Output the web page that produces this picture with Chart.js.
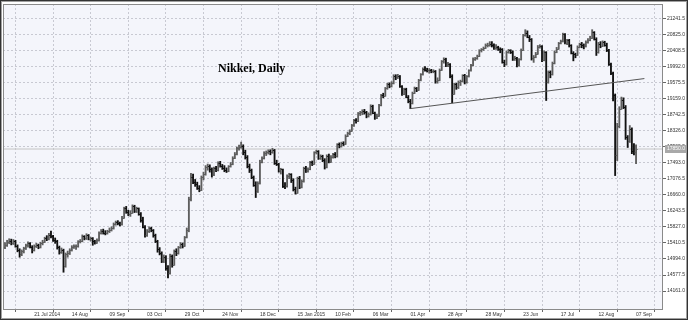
<!DOCTYPE html>
<html>
<head>
<meta charset="utf-8">
<script src="https://cdn.jsdelivr.net/npm/chart.js@4.4.0/dist/chart.umd.min.js"></script>
<style>
  html, body { margin: 0; padding: 0; background: #fff; }
  #wrap { width: 688px; height: 320px; }
</style>
</head>
<body>
<div id="wrap"><canvas id="chart" width="688" height="320"></canvas></div>
<script>
// Nikkei daily bars, each row is [open, high, low, close]
const jul2014 = [
  [15300,15420,15260,15350],[15350,15480,15320,15440],[15440,15520,15390,15470],[15470,15510,15360,15400],
  [15400,15500,15370,15460],[15460,15480,15300,15330],[15330,15360,15180,15220],[15220,15260,15040,15120],
  [15120,15230,15080,15200],[15200,15300,15150,15270],[15270,15380,15240,15350],[15350,15440,15300,15400],
  [15400,15420,15280,15310],[15310,15340,15150,15220],[15220,15360,15200,15330],[15330,15400,15290,15360],
  [15360,15380,15260,15300],[15300,15430,15280,15410],[15410,15480,15360,15440],[15440,15560,15420,15530],
  [15530,15600,15470,15510],[15510,15660,15490,15620],[15620,15720,15540,15580]
];
const aug2014 = [
  [15580,15610,15450,15500],[15500,15540,15400,15450],[15450,15480,15250,15300],[15300,15330,15120,15170],
  [15170,15280,15140,15230],[15230,15250,14650,14800],[14800,15150,14780,15120],[15120,15200,15040,15150],
  [15150,15260,15110,15220],[15220,15340,15200,15310],[15310,15360,15270,15320],[15320,15360,15240,15330],
  [15330,15470,15300,15450],[15450,15500,15410,15460],[15460,15620,15440,15580],[15580,15600,15490,15530],
  [15530,15650,15500,15610],[15610,15630,15490,15520],[15520,15560,15460,15530],[15530,15550,15350,15450],
  [15450,15480,15380,15420]
];
const sep2014 = [
  [15420,15520,15400,15480],[15480,15700,15460,15670],[15670,15760,15640,15730],[15730,15770,15640,15680],
  [15680,15730,15620,15670],[15670,15740,15640,15710],[15710,15800,15680,15750],[15750,15830,15720,15790],
  [15790,15930,15770,15910],[15910,15980,15870,15950],[15950,15990,15880,15920],[15920,15950,15850,15890],
  [15890,16100,15870,16070],[16070,16340,16050,16320],[16320,16360,16180,16210],[16210,16260,16120,16170],
  [16170,16250,16100,16200],[16200,16400,16180,16370],[16370,16390,16200,16230],[16230,16340,16200,16310],
  [16310,16320,16130,16170],[16170,16200,15950,16000]
];
const oct2014 = [
  [16000,16080,15800,15830],[15830,15860,15560,15620],[15620,15760,15580,15720],[15720,15830,15680,15790],
  [15790,15820,15700,15740],[15740,15760,15560,15610],[15610,15640,15420,15460],[15460,15480,15170,15250],
  [15250,15290,15100,15150],[15150,15180,14900,14950],[14950,15100,14900,15050],[15050,15080,14700,14760],
  [14760,14820,14500,14620],[14620,15120,14600,15080],[15080,15100,14780,14850],[14850,15230,14830,15200],
  [15200,15260,15080,15150],[15150,15320,15120,15300],[15300,15420,15270,15390],[15390,15410,15280,15340],
  [15340,15580,15320,15560],[15560,15800,15540,15740],[15740,16600,15700,16550]
];
const nov2014 = [
  [16550,17220,16500,17130],[17130,17200,16950,17000],[17000,17060,16880,16940],[16940,16990,16800,16850],
  [16850,16900,16740,16790],[16790,17150,16770,17120],[17120,17250,17050,17200],[17200,17420,17170,17390],
  [17390,17460,17300,17410],[17410,17440,17250,17330],[17330,17360,17120,17190],[17190,17380,17160,17350],
  [17350,17400,17260,17300],[17300,17520,17280,17480],[17480,17530,17380,17420],[17420,17450,17320,17370],
  [17370,17420,17260,17310],[17310,17360,17240,17290],[17290,17420,17260,17400],[17400,17500,17380,17460]
];
const dec2014 = [
  [17460,17650,17440,17620],[17620,17760,17600,17720],[17720,17900,17700,17880],[17880,17950,17820,17900],
  [17900,18030,17870,17940],[17940,17960,17700,17780],[17780,17820,17590,17640],[17640,17680,17360,17410],
  [17410,17460,17240,17300],[17300,17330,17080,17120],[17120,17150,16880,16920],[16920,17000,16590,16770],
  [16770,17000,16720,16960],[16960,17560,16940,17520],[17520,17650,17490,17610],[17610,17780,17590,17740],
  [17740,17800,17680,17760],[17760,17830,17720,17790],[17790,17830,17700,17760],[17760,17870,17740,17820],
  [17820,17840,17450,17500],[17500,17560,17420,17460]
];
const jan2015 = [
  [17460,17480,17250,17290],[17290,17350,17200,17320],[17320,17330,16850,16900],[16900,16980,16820,16880],
  [16880,17180,16860,17140],[17140,17220,17080,17190],[17190,17210,16980,17050],[17050,17080,16760,16800],
  [16800,16860,16680,16720],[16720,17120,16700,17100],[17100,17140,16820,16860],[16860,17050,16840,17010],
  [17010,17380,16990,17360],[17360,17400,17240,17280],[17280,17360,17250,17330],[17330,17530,17310,17510],
  [17510,17540,17420,17470],[17470,17780,17450,17760],[17760,17820,17720,17790],[17790,17810,17580,17610],
  [17610,17700,17580,17670]
];
const feb2015 = [
  [17670,17690,17520,17560],[17560,17600,17330,17380],[17380,17700,17360,17680],[17680,17720,17490,17520],
  [17520,17680,17500,17650],[17650,17740,17610,17710],[17710,17760,17620,17660],[17660,17990,17640,17970],
  [17970,18010,17880,17920],[17920,18030,17900,18000],[18000,18040,17940,17990],[17990,18220,17970,18200],
  [18200,18290,18170,18260],[18260,18350,18220,18330],[18330,18490,18310,18470],[18470,18620,18440,18600],
  [18600,18640,18520,18580],[18580,18800,18560,18780],[18780,18830,18720,18800]
];
const mar2015 = [
  [18800,18870,18740,18830],[18830,18880,18760,18810],[18810,18830,18660,18700],[18700,18790,18680,18750],
  [18750,19000,18730,18970],[18970,18990,18770,18790],[18790,18810,18620,18660],[18660,18760,18640,18720],
  [18720,19010,18700,18990],[18990,19270,18970,19250],[19250,19300,19180,19240],[19240,19450,19220,19430],
  [19430,19560,19400,19540],[19540,19570,19440,19480],[19480,19600,19460,19560],[19560,19780,19540,19750],
  [19750,19780,19650,19710],[19710,19790,19680,19740],[19740,19760,19450,19480],[19480,19500,19240,19280],
  [19280,19430,19260,19410],[19410,19430,19180,19210],[19210,19240,19050,19100]
];
const apr2015 = [
  [19100,19140,18900,19040],[19040,19330,19020,19310],[19310,19460,19290,19430],[19430,19450,19340,19390],
  [19390,19660,19370,19640],[19640,19810,19620,19790],[19790,19960,19770,19930],[19930,19990,19870,19910],
  [19910,19950,19850,19900],[19900,19940,19820,19900],[19900,19920,19830,19870],[19870,19910,19830,19880],
  [19880,19890,19560,19620],[19620,19700,19560,19640],[19640,19930,19620,19910],[19910,20150,19890,20130],
  [20130,20220,20080,20190],[20190,20210,19990,20020],[20020,20100,19990,20060],[20060,20070,19700,19750],
  [19750,19780,19050,19290]
];
const may2015 = [
  [19290,19560,19270,19530],[19530,19560,19400,19450],[19450,19620,19420,19580],[19580,19640,19500,19610],
  [19610,19780,19590,19760],[19760,19790,19540,19580],[19580,19760,19560,19740],[19740,19910,19720,19890],
  [19890,20050,19870,20030],[20030,20220,20010,20200],[20200,20230,20150,20210],[20210,20290,20180,20270],
  [20270,20430,20250,20410],[20410,20460,20370,20440],[20440,20500,20410,20480],[20480,20580,20460,20550],
  [20550,20600,20500,20560],[20560,20640,20520,20580]
];
const jun2015 = [
  [20580,20640,20500,20540],[20540,20580,20440,20470],[20470,20560,20440,20490],[20490,20520,20410,20450],
  [20450,20480,20350,20440],[20440,20460,20080,20120],[20120,20160,19990,20050],[20050,20400,20030,20380],
  [20380,20440,20340,20410],[20410,20430,20330,20380],[20380,20400,20150,20200],[20200,20260,20150,20210],
  [20210,20230,19980,20020],[20020,20200,20000,20180],[20180,20450,20160,20430],[20430,20830,20410,20810],
  [20810,20950,20780,20870],[20870,20920,20740,20770],[20770,20800,20640,20700],[20700,20720,20160,20220],
  [20220,20280,20100,20240]
];
const jul2015 = [
  [20240,20360,20220,20330],[20330,20540,20310,20510],[20510,20560,20470,20530],[20530,20540,20120,20170],
  [20170,20400,20140,20370],[20370,20380,19110,19600],[19600,19880,19560,19840],[19840,19880,19700,19790],
  [19790,20110,19770,20080],[20080,20400,20060,20380],[20380,20490,20350,20460],[20460,20620,20440,20600],
  [20600,20680,20580,20650],[20650,20860,20630,20830],[20830,20850,20580,20600],[20600,20700,20560,20680],
  [20680,20700,20500,20540],[20540,20560,20320,20350],[20350,20380,20140,20310],[20310,20340,20220,20300],
  [20300,20530,20280,20510],[20510,20600,20480,20580]
];
const aug2015 = [
  [20580,20620,20480,20540],[20540,20580,20450,20520],[20520,20660,20500,20630],[20630,20720,20600,20690],
  [20690,20780,20660,20740],[20740,20950,20720,20880],[20880,20900,20680,20720],[20720,20740,20280,20380],
  [20380,20620,20340,20590],[20590,20640,20480,20530],[20530,20660,20510,20620],[20620,20650,20520,20560],
  [20560,20600,20380,20420],[20420,20440,20020,20050],[20050,20080,19780,19820],[19820,19850,19100,19250],
  [19250,19280,17160,17700],[17700,18520,17550,18450],[18450,18950,18400,18900],[18900,19200,18880,19120],
  [19120,19180,18900,18950]
];
const sep2015 = [
  [18950,18980,18100,18150],[18150,18200,17890,18050],[18050,18460,18020,18380],[18380,18400,17730,17800],
  [17800,17990,17700,17760],[17760,17960,17470,17850]
];

// axis ticks (bar index for the dates)
const xTickIdx = [14, 32, 50, 68, 86, 104, 122, 140, 158, 176, 194, 212, 230, 248, 266, 284, 302];
const xLabels = ['21 Jul 2014', '14 Aug', '09 Sep', '03 Oct', '29 Oct', '24 Nov', '18 Dec', '15 Jan 2015',
  '10 Feb', '06 Mar', '01 Apr', '28 Apr', '28 May', '23 Jun', '17 Jul', '12 Aug', '07 Sep'];
const yTicks = [14161.0, 14577.5, 14994.0, 15410.5, 15827.0, 16243.5, 16660.0, 17076.5, 17493.0,
  17909.5, 18326.0, 18742.5, 19159.0, 19575.5, 19992.0, 20408.5, 20825.0, 21241.5];

// support line drawn on the chart
const trendX = [194, 306];
const trendY = [18900, 19680];
const lastPrice = 17850;

(function() {
  const bars = [].concat(jul2014, aug2014, sep2014, oct2014, nov2014, dec2014, jan2015,
    feb2015, mar2015, apr2015, may2015, jun2015, jul2015, aug2015, sep2015);

  const UP = '#5e5e5e';
  const DOWN = '#111111';
  const colorOf = b => (b[3] >= b[0] ? UP : DOWN);

  const X_MIN = -0.96, X_MAX = 314.9;
  const Y_MIN = 13695, Y_MAX = 21617;

  // plot background, frames, title and price tag
  const decor = {
    id: 'decor',
    beforeDraw(chart) {
      const { ctx, chartArea: a } = chart;
      ctx.save();
      ctx.fillStyle = '#ffffff';
      ctx.fillRect(0, 0, chart.width, chart.height);
      ctx.fillStyle = '#f4f5fb';
      ctx.fillRect(a.left, a.top, a.right - a.left, a.bottom - a.top);
      ctx.restore();
    },
    afterDraw(chart) {
      const { ctx, chartArea: a } = chart;
      const ys = chart.scales.y;
      ctx.save();
      // plot frame
      ctx.strokeStyle = '#8a8a8a';
      ctx.lineWidth = 1;
      ctx.strokeRect(a.left + 0.5, a.top + 0.5, a.right - a.left - 1, a.bottom - a.top);
      // outer frame
      ctx.strokeStyle = '#333333';
      ctx.strokeRect(0.5, 0.5, chart.width - 1, chart.height - 1);
      ctx.strokeStyle = '#a0a0a0';
      ctx.strokeRect(1.5, 1.5, chart.width - 3, chart.height - 3);
      // title
      ctx.fillStyle = '#000';
      ctx.font = 'bold 12px "Liberation Serif", "Times New Roman", serif';
      ctx.textBaseline = 'alphabetic';
      ctx.fillText('Nikkei, Daily', 218, 72);
      // last price tag
      const py = Math.round(ys.getPixelForValue(lastPrice));
      ctx.fillStyle = '#a9a9a9';
      ctx.fillRect(a.right + 2, py - 4, 21, 8);
      ctx.fillStyle = '#ffffff';
      ctx.font = '5px "Liberation Sans", Arial, sans-serif';
      ctx.textBaseline = 'middle';
      ctx.fillText(lastPrice.toFixed(1), a.right + 4, py);
      ctx.restore();
    }
  };

  // open (left) and close (right) ticks of each bar
  const ohlcTicks = {
    id: 'ohlcTicks',
    afterDatasetsDraw(chart) {
      const { ctx, chartArea: a } = chart;
      const xs = chart.scales.x, ys = chart.scales.y;
      ctx.save();
      ctx.beginPath();
      ctx.rect(a.left, a.top, a.right - a.left, a.bottom - a.top);
      ctx.clip();
      ctx.lineWidth = 1;
      bars.forEach((b, i) => {
        const x = xs.getPixelForValue(i);
        const yo = Math.round(ys.getPixelForValue(b[0])) + 0.5;
        const yc = Math.round(ys.getPixelForValue(b[3])) + 0.5;
        ctx.strokeStyle = colorOf(b);
        ctx.beginPath();
        ctx.moveTo(x - 1.6, yo);
        ctx.lineTo(x, yo);
        ctx.moveTo(x, yc);
        ctx.lineTo(x + 1.6, yc);
        ctx.stroke();
      });
      ctx.restore();
    }
  };

  const tickFont = { family: '"Liberation Sans", Arial, sans-serif', size: 5 };

  new Chart(document.getElementById('chart'), {
    type: 'bar',
    data: {
      datasets: [
        {
          type: 'line',
          label: 'price',
          data: [{ x: X_MIN, y: lastPrice }, { x: X_MAX, y: lastPrice }],
          borderColor: '#c4c4c4',
          borderWidth: 1,
          pointRadius: 0,
          order: 3
        },
        {
          type: 'bar',
          label: 'Nikkei',
          data: bars.map((b, i) => ({ x: i, y: [b[2], b[1]] })),
          backgroundColor: bars.map(colorOf),
          borderWidth: 0,
          barThickness: 1.2,
          order: 2
        },
        {
          type: 'line',
          label: 'trend',
          data: trendX.map((x, i) => ({ x: x, y: trendY[i] })),
          borderColor: '#555555',
          borderWidth: 1,
          pointRadius: 0,
          order: 1
        }
      ]
    },
    options: {
      responsive: false,
      devicePixelRatio: 1,
      animation: false,
      layout: { padding: { left: 3, top: 3, right: 0, bottom: 0 } },
      plugins: {
        legend: { display: false },
        tooltip: { enabled: false },
        title: { display: false }
      },
      scales: {
        x: {
          type: 'linear',
          min: X_MIN,
          max: X_MAX,
          offset: false,
          afterBuildTicks: s => { s.ticks = xTickIdx.map(v => ({ value: v })); },
          afterFit: s => { s.height = 11; },
          grid: { color: '#c8c9d2', tickColor: '#666', tickLength: 3, lineWidth: 1 },
          border: { display: false, dash: [2, 2] },
          ticks: {
            autoSkip: false,
            maxRotation: 0,
            minRotation: 0,
            align: 'start',
            padding: 0,
            color: '#333',
            font: tickFont,
            callback: (v, i) => xLabels[i]
          }
        },
        y: {
          type: 'linear',
          position: 'right',
          min: Y_MIN,
          max: Y_MAX,
          afterBuildTicks: s => { s.ticks = yTicks.map(v => ({ value: v })); },
          afterFit: s => { s.width = 25; },
          grid: { color: '#c8c9d2', tickColor: '#666', tickLength: 3, lineWidth: 1 },
          border: { display: false, dash: [2, 2] },
          ticks: {
            padding: 1,
            color: '#333',
            font: tickFont,
            callback: v => v.toFixed(1)
          }
        }
      }
    },
    plugins: [decor, ohlcTicks]
  });
})();
</script>
</body>
</html>
